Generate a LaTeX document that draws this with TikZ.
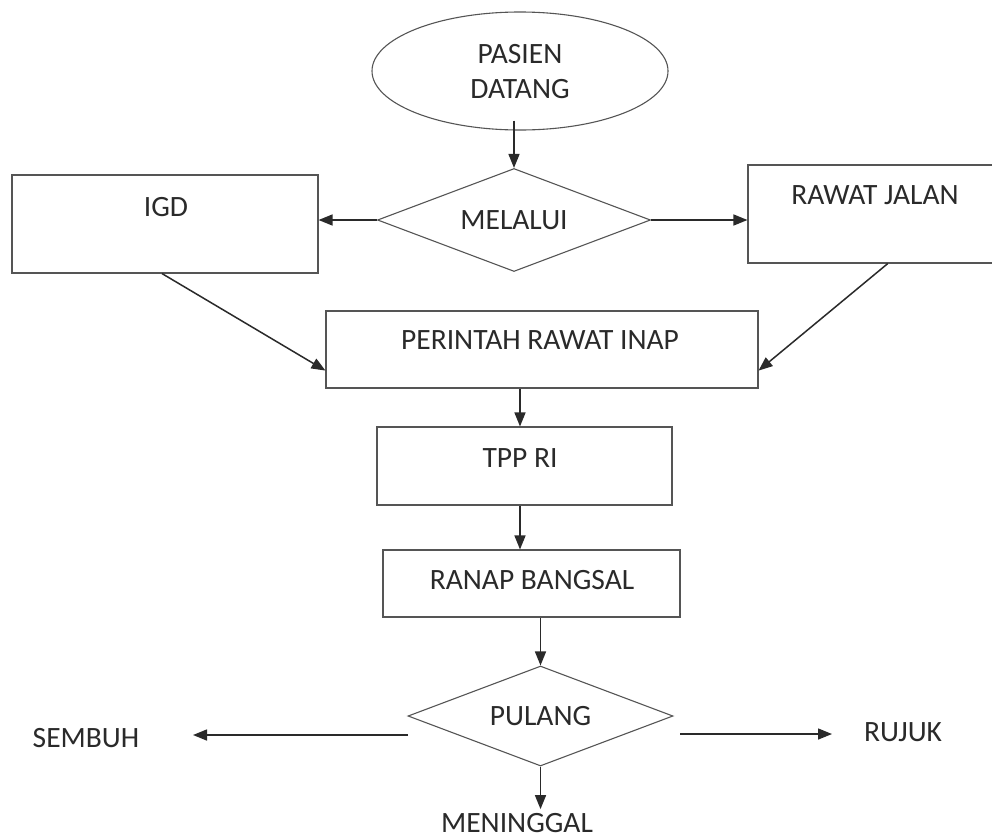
\documentclass[tikz,border=0pt]{standalone}
\usepackage{fontspec}
\setmainfont{Carlito}
\usetikzlibrary{shapes.geometric,arrows.meta,calc}
\definecolor{ink}{HTML}{2A2A2A}
\definecolor{edge}{HTML}{555555}
\begin{document}
\begin{tikzpicture}[x=1pt,y=-1pt,
  every node/.style={font=\fontsize{29.5}{35}\selectfont, text=ink},
  boxnode/.style={draw=edge, line width=1.1pt, rectangle, inner sep=0pt, fill=none},
  dia/.style={draw=edge, line width=1.1pt, diamond, aspect=2.65, inner sep=0pt},
  oval/.style={draw=edge, line width=1.1pt, ellipse, inner sep=0pt},
  txt/.style={inner sep=0pt, align=center},
  arr/.style={draw=ink, line width=1.5pt, -{Triangle[length=14pt,width=11pt]}}
]
\useasboundingbox (0,0) rectangle (992,838);
\fill[white] (0,0) rectangle (992,838);

% shapes
\node[oval, minimum width=296pt, minimum height=118pt] (pasien) at (520,71) {};
\node[txt] (pasient) at (520,72) {PASIEN\\DATANG};

\node[dia, minimum width=273pt, minimum height=103pt] (melalui) at (514,220) {MELALUI};

\node[boxnode, minimum width=306pt, minimum height=98pt] (igd) at (165,224) {};
\node[txt] (igdt) at (166,207) {IGD};

\node[boxnode, minimum width=254pt, minimum height=98pt] (rj) at (875,214) {};
\node[txt] (rjt) at (875,195) {RAWAT JALAN};

\node[boxnode, minimum width=432pt, minimum height=77pt] (pri) at (542,349.5) {};
\node[txt] (prit) at (540,340) {PERINTAH RAWAT INAP};

\node[boxnode, minimum width=295pt, minimum height=78pt] (tpp) at (524.5,466) {};
\node[txt] (tppt) at (520,458) {TPP RI};

\node[boxnode, minimum width=297pt, minimum height=67pt] (ranap) at (531.5,583.5) {};
\node[txt] (ranapt) at (532,580) {RANAP BANGSAL};

\node[dia, minimum width=265pt, minimum height=100pt] (pulang) at (540.5,716) {PULANG};

\node[txt] (sembuh) at (86,738) {SEMBUH};
\node[txt] (rujuk) at (903,732) {RUJUK};
\node[txt] (meninggal) at (517,823) {MENINGGAL};

% connector ends
\coordinate (sembuhtip) at (193,735);
\coordinate (rujuktip) at (832,734);
\coordinate (sembuhstart) at (408,735);
\coordinate (rujukstart) at (680,734);

% connectors
\draw[arr] ($(pasien.south -| melalui.north)+(0,-10)$) -- (melalui.north);
\draw[arr] (melalui.west) -- (melalui.west -| igd.east);
\draw[arr] (melalui.east) -- (melalui.east -| rj.west);
\draw[arr] ($(igd.south)+(-3,0)$) -- ($(pri.south west)!0.23!(pri.north west)$);
\draw[arr] ($(rj.south west)!0.55!(rj.south east)$) -- ($(pri.south east)!0.23!(pri.north east)$);
\draw[arr] (pri.south -| tppt) -- (tpp.north -| tppt);
\draw[arr] (tpp.south -| tppt) -- (ranap.north -| tppt);
\draw[arr] (ranap.south -| pulang.north) -- (pulang.north);
\draw[arr] (pulang.south) -- ($(meninggal.north -| pulang.south)+(0,-4)$);
\draw[arr] (sembuhstart) -- (sembuhtip);
\draw[arr] (rujukstart) -- (rujuktip);
\end{tikzpicture}
\end{document}
